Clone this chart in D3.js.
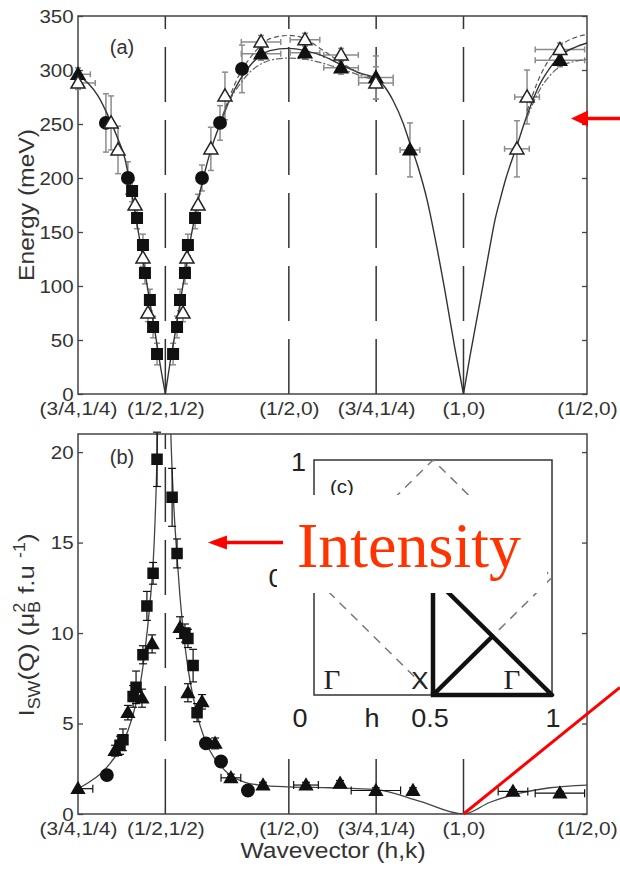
<!DOCTYPE html>
<html>
<head>
<meta charset="utf-8">
<script src="https://cdn.jsdelivr.net/npm/d3@7"></script>
<style>
  body { margin: 0; background: #fff; }
  svg { display: block; }
</style>
</head>
<body>
<div id="chart"></div>
<script>
// path length along (3/4,1/4)-(1/2,1/2)-(1/2,0)-(3/4,1/4)-(1,0)-(1/2,0)
const tickPos = [0, 0.3536, 0.8536, 1.2071, 1.5607, 2.0607];
const tickLabels = ["(3/4,1/4)", "(1/2,1/2)", "(1/2,0)", "(3/4,1/4)", "(1,0)", "(1/2,0)"];
const energyTicks = [0, 50, 100, 150, 200, 250, 300, 350];
const intensityTicks = [0, 5, 10, 15, 20];

// panel (a) points: [q, E (meV), dE, dq]
const aSquares = [
  [0.219, 188, 10, 0], [0.239, 163, 10, 0], [0.263, 138, 10, 0], [0.271, 112, 10, 0],
  [0.291, 87, 10, 0], [0.304, 62, 10, 0], [0.320, 37, 10, 0],
  [0.385, 37, 10, 0], [0.401, 62, 10, 0], [0.413, 87, 10, 0], [0.433, 112, 10, 0],
  [0.445, 138, 10, 0], [0.474, 163, 10, 0]
];
const aCircles = [
  [0.113, 251, 27, 0], [0.202, 200, 15, 0], [0.502, 200, 12, 0], [0.575, 251, 16, 0], [0.664, 301, 22, 0.02]
];
const aOpenTri = [
  [0, 288, 6, 0.07], [0.134, 251, 25, 0], [0.162, 226, 22, 0], [0.231, 175, 8, 0], [0.263, 126, 8, 0],
  [0.283, 75, 8, 0], [0.425, 75, 8, 0], [0.441, 126, 8, 0], [0.486, 175, 10, 0], [0.538, 227, 20, 0],
  [0.595, 276, 22, 0], [0.741, 326, 6, 0.08], [0.919, 328, 6, 0.06], [1.065, 314, 6, 0.07],
  [1.206, 288, 15, 0.07], [1.777, 227, 26, 0.05], [1.818, 275, 25, 0.05], [1.951, 319, 6, 0.1]
];
const aFilledTri = [
  [0, 296, 6, 0.05], [0.741, 315, 6, 0.08], [0.919, 316, 6, 0.06], [1.065, 302, 6, 0.07],
  [1.206, 293, 20, 0.07], [1.344, 226, 25, 0.04], [1.951, 309, 6, 0.1]
];

// panel (a) fitted dispersions: [q, E]
const fitMain = [
  [0, 295], [0.040, 288], [0.081, 276], [0.121, 258], [0.162, 236], [0.190, 218], [0.211, 194],
  [0.231, 168], [0.251, 141], [0.271, 113], [0.291, 85], [0.312, 57], [0.332, 28], [0.3536, 0],
  [0.372, 28], [0.393, 56], [0.413, 84], [0.433, 112], [0.453, 140], [0.474, 165], [0.494, 187],
  [0.514, 206], [0.534, 223], [0.575, 250], [0.615, 273], [0.656, 291], [0.696, 304], [0.737, 313],
  [0.777, 318], [0.8536, 320], [0.919, 318], [0.980, 314], [1.065, 305], [1.142, 297], [1.2071, 292],
  [1.243, 284], [1.275, 272], [1.316, 251], [1.344, 232], [1.377, 210], [1.413, 180], [1.445, 145],
  [1.486, 95], [1.526, 42], [1.5607, 0],
  [1.587, 35], [1.628, 86], [1.668, 137], [1.688, 161], [1.709, 180], [1.729, 197], [1.777, 230],
  [1.818, 258], [1.870, 287], [1.911, 302], [1.951, 313], [2.012, 321], [2.0607, 325]
];
const fitHighB = [
  [0.575, 251], [0.615, 276], [0.656, 297], [0.696, 311], [0.737, 322], [0.777, 329], [0.8536, 332],
  [0.919, 329], [0.980, 320], [1.065, 307], [1.142, 297], [1.2071, 292]
];
const fitHighC = [[1.818, 262], [1.870, 294], [1.911, 311], [1.951, 322], [2.012, 330], [2.0607, 333]];
const fitLowB = [
  [0.575, 249], [0.615, 272], [0.656, 287], [0.696, 298], [0.737, 305], [0.777, 309], [0.8536, 311],
  [0.919, 310], [0.980, 307], [1.065, 301], [1.142, 295], [1.2071, 290]
];
const fitLowC = [[1.818, 256], [1.870, 282], [1.911, 295], [1.951, 303], [2.012, 308], [2.0607, 310]];

// panel (b) points: [q, I, dI, dq]
const bTri = [
  [0, 1.4, 0, 0.06], [0.150, 3.5, 0.3, 0], [0.202, 5.6, 0.4, 0], [0.259, 6.4, 0.5, 0], [0.300, 9.4, 0.5, 0],
  [0.413, 10.3, 0.6, 0], [0.445, 6.7, 0.5, 0], [0.502, 6.2, 0.4, 0], [0.555, 3.9, 0.3, 0],
  [0.619, 2.0, 0.2, 0.04], [0.749, 1.6, 0.15, 0], [0.923, 1.6, 0.15, 0.05], [1.061, 1.7, 0.15, 0],
  [1.206, 1.3, 0.15, 0.1], [1.356, 1.3, 0.15, 0], [1.761, 1.25, 0.1, 0.06], [1.951, 1.15, 0.1, 0.1]
];
const bSq = [
  [0.170, 3.8, 0.5, 0], [0.182, 4.1, 0.6, 0], [0.223, 6.5, 0.6, 0], [0.235, 7.0, 0.9, 0],
  [0.263, 8.8, 0.5, 0], [0.279, 11.5, 0.8, 0], [0.304, 13.3, 0.6, 0], [0.320, 19.6, 1.5, 0],
  [0.381, 17.5, 1.6, 0], [0.401, 14.4, 0.8, 0], [0.433, 10.0, 0.5, 0], [0.445, 9.7, 0.5, 0],
  [0.466, 8.2, 0.9, 0], [0.482, 5.6, 0.5, 0]
];
const bCirc = [[0.117, 2.15, 0, 0], [0.518, 3.9, 0, 0], [0.579, 2.9, 0, 0], [0.688, 1.3, 0, 0]];

// panel (b) fitted intensity: [q, I]
const bFitLeft = [
  [0, 1.4], [0.049, 1.8], [0.089, 2.2], [0.130, 2.8], [0.170, 3.6], [0.202, 4.6], [0.231, 5.9],
  [0.251, 7.1], [0.271, 9.0], [0.291, 11.6], [0.304, 13.8], [0.312, 16.2], [0.320, 19.8], [0.324, 22.5]
];
const bFitRight = [
  [0.372, 23], [0.377, 20.5], [0.385, 17.8], [0.393, 15.8], [0.401, 14.2], [0.413, 12], [0.433, 9.3],
  [0.453, 7.4], [0.474, 6.0], [0.494, 4.9], [0.534, 3.5], [0.575, 2.7], [0.615, 2.15], [0.676, 1.75],
  [0.737, 1.6], [0.8536, 1.5], [1.020, 1.45], [1.2071, 1.35], [1.385, 0.7], [1.5607, 0],
  [1.668, 0.65], [1.789, 1.15], [1.911, 1.45], [2.0607, 1.6]
];

// inset (c): Brillouin zone (h,k)
const bzDiamond = [[0, 0.5], [0.5, 1], [1, 0.5], [0.5, 0], [0, 0.5]];
const bzPath = [[0.75, 0.25], [0.5, 0.5], [0.5, 0], [0.75, 0.25], [1, 0], [0.5, 0]];

const W = 620, H = 869;
const svg = d3.select("#chart").append("svg")
  .attr("width", W).attr("height", H)
  .style("font-family", "'Liberation Sans', Arial, sans-serif");

const x = d3.scaleLinear().domain([0, 2.0607]).range([78, 587]);
const yA = d3.scaleLinear().domain([0, 350]).range([394, 16]);
const yB = d3.scaleLinear().domain([0, 21]).range([814, 434]);

function stretchText(sel, sx) {
  sel.each(function () {
    const t = d3.select(this);
    const prev = t.attr("transform") || "";
    t.attr("transform", prev + " scale(" + sx + ",1)");
  });
}

function frame(g, y, ticks, top) {
  g.append("rect")
    .attr("x", x.range()[0]).attr("y", y.range()[1])
    .attr("width", x.range()[1] - x.range()[0]).attr("height", y.range()[0] - y.range()[1])
    .attr("fill", "none").attr("stroke", "#444").attr("stroke-width", 1.5);

  const left = g.append("g").attr("transform", `translate(${x.range()[0]},0)`)
    .call(d3.axisLeft(y).tickValues(ticks).tickSize(-5).tickPadding(4));
  const right = g.append("g").attr("transform", `translate(${x.range()[1]},0)`)
    .call(d3.axisRight(y).tickValues(ticks).tickSize(-5).tickFormat(""));
  const bottom = g.append("g").attr("transform", `translate(0,${y.range()[0]})`)
    .call(d3.axisBottom(x).tickValues(tickPos).tickSize(0).tickPadding(8).tickFormat((d, i) => tickLabels[i]));
  [left, right, bottom].forEach(a => {
    a.select(".domain").remove();
    a.selectAll("line").attr("stroke", "#444").attr("stroke-width", 1.3);
    a.selectAll("text").attr("fill", "#333").style("font-size", "19px")
      .style("font-family", "'Liberation Sans', Arial, sans-serif");
  });
  stretchText(left.selectAll("text"), 1.08);
  stretchText(bottom.selectAll("text"), 1.1);
}

function errBars(g, data, y, color, w, cap) {
  data.forEach(d => {
    if (d[2] > 0) {
      const y1 = y(d[1] - d[2]), y2 = y(d[1] + d[2]);
      g.append("line").attr("x1", x(d[0])).attr("x2", x(d[0])).attr("y1", y1).attr("y2", y2)
        .attr("stroke", color).attr("stroke-width", w);
      [y1, y2].forEach(yy => g.append("line")
        .attr("x1", x(d[0]) - cap).attr("x2", x(d[0]) + cap).attr("y1", yy).attr("y2", yy)
        .attr("stroke", color).attr("stroke-width", w));
    }
    if (d[3] > 0) {
      const x1 = x(d[0] - d[3]), x2 = x(d[0] + d[3]);
      g.append("line").attr("x1", Math.max(x1, 78)).attr("x2", Math.min(x2, 587))
        .attr("y1", y(d[1])).attr("y2", y(d[1]))
        .attr("stroke", color).attr("stroke-width", w);
      [x1, x2].filter(v => v >= 78 && v <= 587).forEach(xx => g.append("line")
        .attr("x1", xx).attr("x2", xx).attr("y1", y(d[1]) - cap).attr("y2", y(d[1]) + cap)
        .attr("stroke", color).attr("stroke-width", w));
    }
  });
}

function marks(g, data, y, type, size, fill, stroke) {
  g.selectAll(null).data(data).enter().append("path")
    .attr("d", d3.symbol().type(type).size(size))
    .attr("transform", d => `translate(${x(d[0])},${y(d[1]) + (type === d3.symbolTriangle ? 1 : 0)})`)
    .attr("fill", fill).attr("stroke", stroke).attr("stroke-width", 1.5);
}

function splitAtZero(pts) {
  const segs = [];
  let cur = [];
  pts.forEach(p => {
    cur.push(p);
    if (p[1] === 0 && cur.length > 1) { segs.push(cur); cur = [p]; }
  });
  if (cur.length > 1) segs.push(cur);
  return segs;
}

function curve(g, pts, y, color, w, dash) {
  const line = d3.line().x(d => x(d[0])).y(d => y(d[1])).curve(d3.curveMonotoneX);
  g.append("path").attr("d", line(pts)).attr("fill", "none")
    .attr("stroke", color).attr("stroke-width", w).attr("stroke-dasharray", dash || null);
}

// ---------- panel (a) ----------
const gA = svg.append("g");
tickPos.slice(1, -1).forEach(q => {
  gA.append("line").attr("x1", x(q)).attr("x2", x(q)).attr("y1", yA(0)).attr("y2", yA(350))
    .attr("stroke", "#333").attr("stroke-width", 1.5).attr("stroke-dasharray", "55,18");
});
frame(gA, yA, energyTicks);

errBars(gA, aSquares.concat(aCircles, aOpenTri, aFilledTri), yA, "#8c8c8c", 1.5, 3);
splitAtZero(fitMain).forEach(s => curve(gA, s, yA, "#333", 1.4));
[fitHighB, fitHighC].forEach(s => curve(gA, s, yA, "#555", 1.2, "5,3"));
[fitLowB, fitLowC].forEach(s => curve(gA, s, yA, "#666", 1.2, "7,2,2,2"));
marks(gA, aSquares, yA, d3.symbolSquare, 110, "#111", "#111");
marks(gA, aCircles, yA, d3.symbolCircle, 120, "#111", "#111");
marks(gA, aFilledTri, yA, d3.symbolTriangle, 80, "#111", "#111");
marks(gA, aOpenTri, yA, d3.symbolTriangle, 85, "#fff", "#222");

gA.append("text").attr("x", 122).attr("y", 54).attr("text-anchor", "middle")
  .style("font-size", "20px").attr("fill", "#333").text("(a)");
gA.append("text").attr("transform", "translate(34,205) rotate(-90) scale(1.12,1)")
  .attr("text-anchor", "middle").style("font-size", "22px").attr("fill", "#333").text("Energy (meV)");

// ---------- panel (b) ----------
const gB = svg.append("g");
gB.append("defs").append("clipPath").attr("id", "clipB").append("rect")
  .attr("x", 78).attr("y", 434).attr("width", 509).attr("height", 380);
tickPos.slice(1, -1).forEach((q, i) => {
  gB.append("line").attr("x1", x(q)).attr("x2", x(q)).attr("y1", yB(0))
    .attr("y2", i === 0 ? yB(21) : yB(0) - 56)
    .attr("stroke", "#333").attr("stroke-width", 1.5).attr("stroke-dasharray", "55,18");
});
frame(gB, yB, intensityTicks);

const gBc = gB.append("g").attr("clip-path", "url(#clipB)");
curve(gBc, bFitLeft, yB, "#444", 1.3);
curve(gBc, bFitRight, yB, "#444", 1.3);
errBars(gB, bTri.concat(bSq, bCirc), yB, "#111", 1.2, 4);
marks(gB, bCirc, yB, d3.symbolCircle, 120, "#111", "#111");
marks(gB, bSq, yB, d3.symbolSquare, 100, "#111", "#111");
marks(gB, bTri, yB, d3.symbolTriangle, 70, "#111", "#111");

gB.append("text").attr("x", 122).attr("y", 464).attr("text-anchor", "middle")
  .style("font-size", "20px").attr("fill", "#333").text("(b)");

const yl = gB.append("text").attr("transform", "translate(34,625) rotate(-90) scale(1.12,1)")
  .attr("text-anchor", "middle").style("font-size", "23px").attr("fill", "#333");
yl.append("tspan").text("I");
yl.append("tspan").attr("dy", 6).style("font-size", "16px").text("SW");
yl.append("tspan").attr("dy", -6).text("(Q) (\u03bc");
yl.append("tspan").attr("dy", -9).style("font-size", "16px").text("2");
yl.append("tspan").attr("dx", -9).attr("dy", 15).style("font-size", "16px").text("B");
yl.append("tspan").attr("dy", -6).text(" f.u ");
yl.append("tspan").attr("dy", -9).style("font-size", "16px").text("-1");
yl.append("tspan").attr("dy", 9).text(")");

svg.append("text").attr("transform", "translate(333,858) scale(1.12,1)").attr("text-anchor", "middle")
  .style("font-size", "22px").attr("fill", "#333").text("Wavevector (h,k)");

// ---------- inset (c) ----------
const hS = d3.scaleLinear().domain([0, 1]).range([314, 552]);
const kS = d3.scaleLinear().domain([0, 1]).range([695, 460]);
const gC = svg.append("g");
gC.append("rect").attr("x", hS(0)).attr("y", kS(1)).attr("width", hS(1) - hS(0)).attr("height", kS(0) - kS(1))
  .attr("fill", "#fff").attr("stroke", "#333").attr("stroke-width", 1.5);
const bzLine = d3.line().x(d => hS(d[0])).y(d => kS(d[1]));
gC.append("path").attr("d", bzLine(bzDiamond)).attr("fill", "none")
  .attr("stroke", "#777").attr("stroke-width", 1.5).attr("stroke-dasharray", "9,7");
gC.append("path").attr("d", bzLine(bzPath)).attr("fill", "none")
  .attr("stroke", "#111").attr("stroke-width", 4.5).attr("stroke-linejoin", "round").attr("stroke-linecap", "square");

const insetText = (tx, ty, s, size, anchor, fam) => gC.append("text")
  .attr("transform", `translate(${tx},${ty}) scale(1.08,1)`).attr("text-anchor", anchor || "middle")
  .style("font-size", size + "px").style("font-family", fam || null).attr("fill", "#222").text(s);
insetText(342, 493, "(c)", 19);
insetText(306, 471, "1", 25, "end");
insetText(306, 587, "0.5", 25, "end");
insetText(300, 727, "0", 25);
insetText(372, 727, "h", 25);
insetText(430, 727, "0.5", 25);
insetText(553, 727, "1", 25);
insetText(332, 689, "\u0393", 27, "middle", "'Liberation Serif', serif");
insetText(420, 689, "X", 24);
insetText(512, 689, "\u0393", 27, "middle", "'Liberation Serif', serif");

// ---------- red annotations ----------
const gR = svg.append("g");
gR.append("rect").attr("x", 277).attr("y", 495).attr("width", 270).attr("height", 98).attr("fill", "#fff");
gR.append("text").attr("x", 297).attr("y", 567).style("font-family", "'Liberation Serif', 'Times New Roman', serif")
  .style("font-size", "64px").attr("fill", "#ff3300").text("Intensity");

function arrow(tipX, tipY, tailX, headLen, headHalf) {
  gR.append("line").attr("x1", tipX + headLen - 1).attr("x2", tailX).attr("y1", tipY).attr("y2", tipY)
    .attr("stroke", "#f00").attr("stroke-width", 3.5);
  gR.append("path").attr("d", `M${tipX},${tipY}L${tipX + headLen},${tipY - headHalf}L${tipX + headLen},${tipY + headHalf}Z`)
    .attr("fill", "#f00");
}
arrow(x(1.996), yA(255), 620, 17, 8);
arrow(x(0.526), yB(15), 283, 19, 7);

gR.append("line").attr("x1", x(1.5607)).attr("y1", yB(0)).attr("x2", x(2.194)).attr("y2", yB(7.0))
  .attr("stroke", "#f00").attr("stroke-width", 3);
</script>
</body>
</html>
